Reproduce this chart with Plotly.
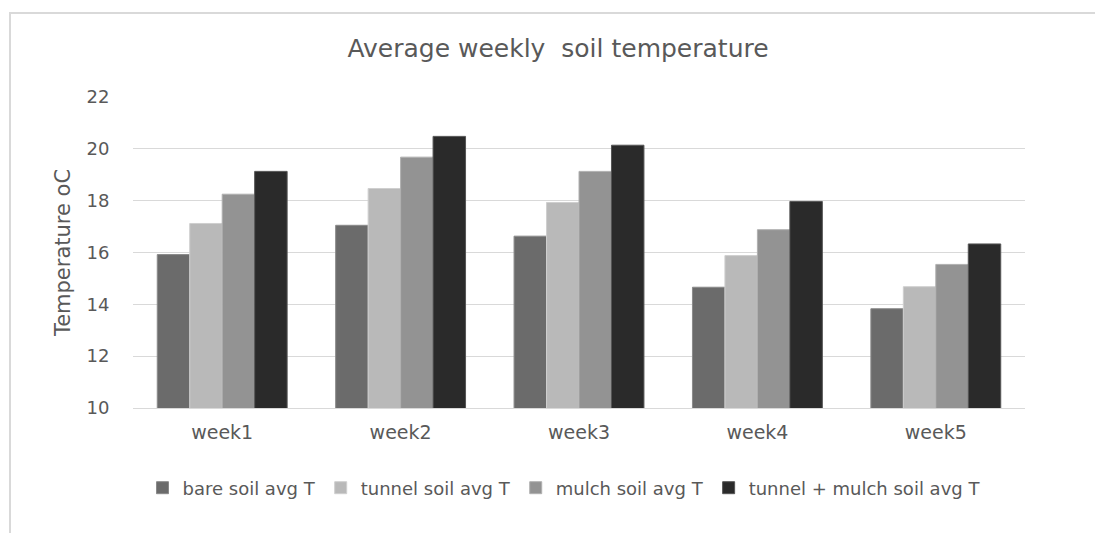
import plotly.graph_objects as go

weeks = ["week1", "week2", "week3", "week4", "week5"]
bare = [15.92, 17.05, 16.63, 14.66, 13.83]
tunnel = [17.12, 18.47, 17.93, 15.88, 14.68]
mulch = [18.25, 19.68, 19.13, 16.88, 15.54]
tunnel_mulch = [19.13, 20.48, 20.14, 17.97, 16.33]

series = [
    ("bare soil avg T", bare, "#6b6b6b", "#8a8a8a"),
    ("tunnel soil avg T", tunnel, "#b9b9b9", "#cfcfcf"),
    ("mulch soil avg T", mulch, "#939393", "#b0b0b0"),
    ("tunnel + mulch soil avg T", tunnel_mulch, "#2a2a2a", "#555555"),
]

FONT = "DejaVu Sans"
TXT = "#595959"

fig = go.Figure()
for name, vals, col, edge in series:
    fig.add_trace(go.Bar(
        x=weeks, y=vals, name=name,
        marker=dict(color=col, line=dict(color=edge, width=1)),
    ))

L, R, T, B = 133, 70, 97, 125
W, H = 1095, 533
pw = W - L - R
ph = H - T - B
cx = (562 - L) / pw

fig.update_layout(
    width=W, height=H,
    margin=dict(l=L, r=R, t=T, b=B, autoexpand=False),
    paper_bgcolor="white", plot_bgcolor="white",
    barmode="group", bargap=0.272, bargroupgap=0,
    font=dict(family=FONT, color=TXT, size=16),
    title=dict(text="Average weekly\u00a0 soil temperature", x=(558 - L) / pw, xref="paper",
               xanchor="center", y=1 - 48 / H, yanchor="middle",
               font=dict(family=FONT, size=25, color=TXT)),
    legend=dict(orientation="h", x=(564 - L) / pw, xanchor="center", y=-(488 - 408) / ph,
                yanchor="middle", font=dict(family=FONT, size=18, color=TXT),
                itemwidth=30, traceorder="normal"),
    showlegend=True,
    xaxis=dict(showgrid=False, showline=True, linecolor="#d9d9d9", linewidth=1,
               ticks="outside", ticklen=7, tickcolor="rgba(0,0,0,0)",
               tickfont=dict(family=FONT, size=19, color=TXT)),
    yaxis=dict(range=[10, 22], dtick=2, showgrid=True, gridcolor="#d9d9d9",
               gridwidth=1, zeroline=False, showline=False,
               ticks="outside", ticklen=19, tickcolor="rgba(0,0,0,0)",
               tickfont=dict(family=FONT, size=18, color=TXT)),
               
    shapes=[dict(type="rect", xref="paper", yref="paper",
                 x0=(10 - L) / pw, x1=(1110 - L) / pw,
                 y0=-(545 - 408) / ph, y1=(408 - 13) / ph,
                 line=dict(color="#d9d9d9", width=2), layer="below")],
)
fig.update_yaxes(title=dict(text="Temperature oC", standoff=10,
                            font=dict(family=FONT, size=21, color=TXT)))

fig.write_html("out.html", config={"displayModeBar": False},
               post_script="document.body.style.margin='0';document.body.style.overflow='hidden';")
